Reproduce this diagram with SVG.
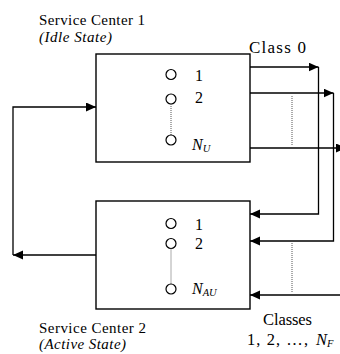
<svg xmlns="http://www.w3.org/2000/svg" width="340" height="354" viewBox="0 0 340 354">
<defs>
<marker id="ah" markerUnits="userSpaceOnUse" markerWidth="11" markerHeight="10" refX="10" refY="4.5" orient="auto">
<path d="M0,0 L10,4.5 L0,9 Z" fill="#000"/>
</marker>
<style>
.box{fill:#fff;stroke:#000;stroke-width:1.4}
.arr{fill:none;stroke:#000;stroke-width:1.3;marker-end:url(#ah)}
.dot{fill:none;stroke:#555;stroke-width:1;stroke-dasharray:1 1}
.srv{fill:#fff;stroke:#000;stroke-width:1.2}
.t{font-family:"Liberation Serif","Times New Roman",serif;font-size:15px;fill:#000}
.n{font-size:16px}
.i{font-style:italic}
.sub{font-size:10.5px}
</style>
</defs>
<rect width="340" height="354" fill="#fff"/>
<g id="center1">
<rect class="box" x="96" y="54" width="154" height="108"/>
<circle class="srv" cx="171" cy="74.5" r="5"/>
<circle class="srv" cx="171" cy="99" r="5"/>
<line class="dot" x1="171" y1="104" x2="171" y2="135"/>
<circle class="srv" cx="171" cy="140" r="5"/>
<text class="t n" x="195" y="81">1</text>
<text class="t n" x="195" y="102.5">2</text>
<text class="t n i" x="192" y="150">N<tspan class="sub" dy="1.5">U</tspan></text>
<text class="t" x="39" y="24.5" textLength="106">Service Center 1</text>
<text class="t i" x="39" y="42" textLength="73">(Idle State)</text>
</g>
<g id="center2">
<rect class="box" x="96" y="201" width="154" height="108"/>
<circle class="srv" cx="171" cy="223.5" r="5"/>
<circle class="srv" cx="171" cy="243.5" r="5"/>
<line class="dot" x1="171" y1="248.5" x2="171" y2="284"/>
<circle class="srv" cx="171" cy="289" r="5"/>
<text class="t n" x="195" y="230">1</text>
<text class="t n" x="195" y="249">2</text>
<text class="t n i" x="192" y="294">N<tspan class="sub" dy="1.5">AU</tspan></text>
<text class="t" x="39" y="333" textLength="107">Service Center 2</text>
<text class="t i" x="39" y="348.5" textLength="87">(Active State)</text>
</g>
<g id="connectors">
<line class="arr" x1="250" y1="67" x2="318.5" y2="67"/>
<polyline class="arr" points="318.5,67 318.5,214 250,214"/>
<line class="arr" x1="250" y1="93" x2="333.5" y2="93"/>
<polyline class="arr" points="333.5,93 333.5,241 250,241"/>
<line class="arr" x1="250" y1="148" x2="346" y2="148"/>
<line class="arr" x1="341" y1="295" x2="250" y2="295"/>
<line class="dot" x1="292" y1="96" x2="292" y2="146"/>
<line class="dot" x1="292" y1="243" x2="292" y2="293"/>
<line class="arr" x1="96" y1="255" x2="13" y2="255"/>
<polyline class="arr" points="13,255 13,107 96,107"/>
</g>
<g id="labels">
<text class="t" x="249" y="53" style="font-size:17px" textLength="57">Class 0</text>
<text class="t" x="263" y="325" style="font-size:16.5px" textLength="49">Classes</text>
<text class="t" x="247" y="345" style="font-size:16.5px"><tspan textLength="61">1, 2, …,</tspan><tspan class="i" x="316">N</tspan><tspan class="i sub" dy="1.5">F</tspan></text>
</g>
</svg>
